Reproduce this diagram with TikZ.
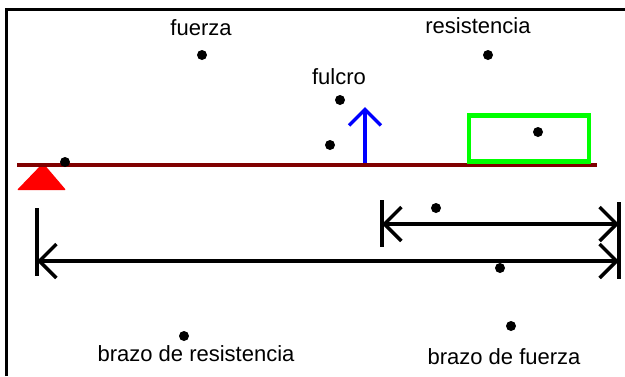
\documentclass[tikz,border=0pt]{standalone}
\usepackage{fontspec}
\setmainfont{Liberation Sans}
\usetikzlibrary{arrows.meta}
\definecolor{beamred}{HTML}{800000}
\definecolor{loadgreen}{HTML}{00FF00}
\tikzset{
  lbl/.style={inner sep=0pt, anchor=base, font=\fontsize{22}{26}\selectfont},
  pt/.style={circle, fill=black, inner sep=0pt, minimum size=10pt},
  frameline/.style={line width=3pt},
  dimline/.style={line width=3.5pt, {Straight Barb[length=17pt,width=34pt,line width=3.5pt]}-{Straight Barb[length=17pt,width=34pt,line width=3.5pt]}},
  tick/.style={line width=3.5pt},
}
\begin{document}
\begin{tikzpicture}[x=1pt,y=-1pt]
\useasboundingbox (0,0) rectangle (625,376);
\fill[white] (0,0) rectangle (625,376);
% frame edges (top and left)
\coordinate (fTL) at (6,9);
\coordinate (fTR) at (625,9);
\coordinate (fBL) at (6,376);
\draw[frameline] (fBL) -- (fTL) -- (fTR);

% support triangle and beam
\fill[red, rounded corners=1pt] (43,163) -- (66,190) -- (17,190) -- cycle;
\coordinate (beamL) at (17,165);
\coordinate (beamR) at (597,165);
\draw[beamred, line width=4pt] (beamL) -- (beamR);

% load box
\node[draw=loadgreen, line width=4.5pt, minimum width=120pt, minimum height=46pt, inner sep=0pt] (load) at (529,138.5) {};

% upward force arrow
\coordinate (upB) at (365,163);
\coordinate (upT) at (365,107);
\draw[blue, line width=3.5pt, -{Straight Barb[length=16pt,width=32pt,line width=3.5pt]}] (upB) -- (upT);

% labels
\node[lbl] (tF) at (201,35) {fuerza};
\node[lbl] (tR) at (478,33) {resistencia};
\node[lbl] (tC) at (339,84) {fulcro};
\node[lbl] (tBR) at (196,361) {brazo de resistencia};
\node[lbl] (tBF) at (504,364) {brazo de fuerza};

% dots
\node[pt] (d1) at (202,55) {};
\node[pt] (d2) at (488,55) {};
\node[pt] (d3) at (340,100) {};
\node[pt] (d4) at (330,145) {};
\node[pt] (d5) at (65,162) {};
\node[pt] (d6) at (538,132) {};
\node[pt] (d7) at (436,208) {};
\node[pt] (d8) at (500,268) {};
\node[pt] (d9) at (184,336) {};
\node[pt] (d10) at (511,326) {};

% dimension ticks
\coordinate (tkA1) at (382,200);
\coordinate (tkA2) at (382,247);
\coordinate (tkB1) at (37,208);
\coordinate (tkB2) at (37,276);
\coordinate (tkC1) at (619,202);
\coordinate (tkC2) at (619,279);
\draw[tick] (tkA1) -- (tkA2);
\draw[tick] (tkB1) -- (tkB2);
\draw[tick] (tkC1) -- (tkC2);

% dimension lines
\coordinate (sA) at (382,224);
\coordinate (sB) at (619,224);
\coordinate (lA) at (37,261);
\coordinate (lB) at (619,261);
\draw[dimline] (sA) -- (sB);
\draw[dimline] (lA) -- (lB);
\end{tikzpicture}
\end{document}
